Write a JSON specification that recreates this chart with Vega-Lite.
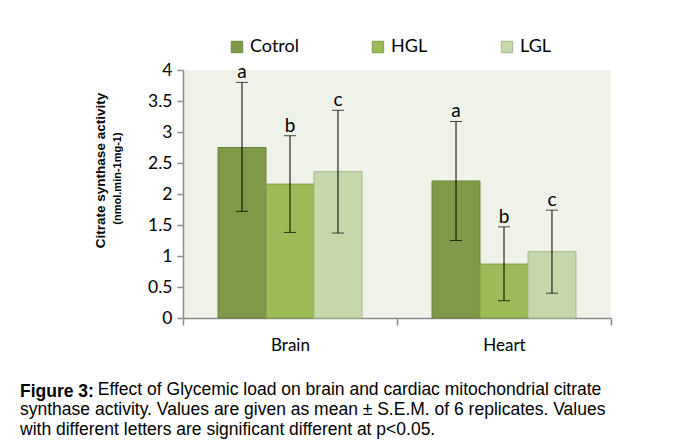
{
  "$schema": "https://vega.github.io/schema/vega-lite/v6.json",
  "width": 428,
  "height": 248,
  "autosize": {"type": "none"},
  "padding": {"left": 183, "top": 70, "right": 70, "bottom": 128},
  "background": "white",
  "config": {"view": {"fill": "#EFF2E8", "stroke": null}, "font": "Lato"},
  "title": {
    "text": "Figure 3:",
    "subtitle": [
      "\u200b\u00a0\u00a0\u00a0\u00a0\u00a0\u00a0\u00a0\u00a0\u00a0\u00a0\u00a0\u00a0\u00a0\u00a0\u00a0\u00a0Effect of Glycemic load on brain and cardiac mitochondrial citrate",
      "synthase activity. Values are given as mean ± S.E.M. of 6 replicates. Values",
      "with different letters are significant different at p<0.05."
    ],
    "orient": "bottom",
    "anchor": "start",
    "frame": "group",
    "dx": -163,
    "offset": 30,
    "font": "Liberation Sans",
    "fontSize": 17.5,
    "fontWeight": "bold",
    "color": "black",
    "lineHeight": 20,
    "subtitleFont": "Liberation Sans",
    "subtitleFontSize": 17.5,
    "subtitleFontWeight": "normal",
    "subtitleColor": "black",
    "subtitleLineHeight": 20,
    "subtitlePadding": -20
  },
  "data": {
    "values": [
      {"organ": "Brain", "group": "Cotrol", "mean": 2.75, "lo": 1.72, "hi": 3.8, "letter": "a"},
      {"organ": "Brain", "group": "HGL", "mean": 2.16, "lo": 1.38, "hi": 2.94, "letter": "b"},
      {"organ": "Brain", "group": "LGL", "mean": 2.36, "lo": 1.37, "hi": 3.35, "letter": "c"},
      {"organ": "Heart", "group": "Cotrol", "mean": 2.21, "lo": 1.25, "hi": 3.17, "letter": "a"},
      {"organ": "Heart", "group": "HGL", "mean": 0.87, "lo": 0.28, "hi": 1.47, "letter": "b"},
      {"organ": "Heart", "group": "LGL", "mean": 1.07, "lo": 0.4, "hi": 1.74, "letter": "c"}
    ]
  },
  "encoding": {
    "x": {
      "field": "organ",
      "type": "nominal",
      "sort": ["Brain", "Heart"],
      "scale": {"paddingInner": 0, "paddingOuter": 0},
      "axis": {
        "title": null,
        "labelAngle": 0,
        "labelFontSize": 17,
        "labelColor": "black",
        "labelPadding": 12,
        "tickBand": "extent",
        "tickSize": 7,
        "tickColor": "#8C8C8C",
        "domainColor": "#8C8C8C",
        "tickWidth": 1.5,
        "domainWidth": 1.5
      }
    },
    "xOffset": {
      "field": "group",
      "type": "nominal",
      "sort": ["Cotrol", "HGL", "LGL"],
      "scale": {"paddingInner": 0, "paddingOuter": 0.73}
    }
  },
  "layer": [
    {
      "mark": {"type": "bar", "strokeWidth": 1},
      "encoding": {
        "y": {
          "field": "mean",
          "type": "quantitative",
          "scale": {"domain": [0, 4]},
          "axis": {
            "orient": "left",
            "values": [0, 0.5, 1, 1.5, 2, 2.5, 3, 3.5, 4],
            "format": "~g",
            "grid": false,
            "labelFontSize": 17.5,
            "labelColor": "black",
            "labelPadding": 5,
            "tickSize": 6,
            "tickColor": "#8C8C8C",
            "domainColor": "#8C8C8C",
            "tickWidth": 1.5,
            "domainWidth": 1.5,
            "title": "(nmol.min-1mg-1)",
            "titleFont": "Liberation Sans",
            "titleFontSize": 11,
            "titleFontWeight": "bold",
            "titleColor": "black",
            "titleAngle": -90,
            "titleBaseline": "middle",
            "titleAlign": "center",
            "titleX": -66,
            "titleY": 108
          }
        },
        "color": {
          "field": "group",
          "type": "nominal",
          "sort": ["Cotrol", "HGL", "LGL"],
          "scale": {"range": ["#7E9A48", "#9BBB59", "#C6D7AC"]},
          "legend": {
            "title": null,
            "orient": "none",
            "direction": "horizontal",
            "legendX": 45,
            "legendY": -32,
            "symbolType": "square",
            "symbolSize": 130,
            "symbolStrokeWidth": 1,
            "labelFontSize": 18,
            "labelColor": "black",
            "labelOffset": 4,
            "columnPadding": 70,
            "encode": {
              "symbols": {
                "update": {"stroke": {"scale": "stroke", "field": "value"}}
              }
            }
          }
        },
        "stroke": {
          "field": "group",
          "type": "nominal",
          "sort": ["Cotrol", "HGL", "LGL"],
          "scale": {"range": ["#6A8439", "#7E9C45", "#A3B88A"]},
          "legend": null
        }
      }
    },
    {
      "mark": {"type": "rule", "color": "black", "strokeWidth": 1},
      "encoding": {
        "y": {
          "field": "lo",
          "type": "quantitative",
          "axis": {
            "orient": "left",
            "labels": false,
            "ticks": false,
            "domain": false,
            "grid": false,
            "title": "Citrate synthase activity",
            "titleFont": "Liberation Sans",
            "titleFontSize": 13.5,
            "titleFontWeight": "bold",
            "titleColor": "black",
            "titleAngle": -90,
            "titleBaseline": "middle",
            "titleAlign": "center",
            "titleX": -83,
            "titleY": 100
          }
        },
        "y2": {"field": "hi"}
      }
    },
    {
      "mark": {"type": "tick", "color": "black", "thickness": 1, "size": 12},
      "encoding": {"y": {"field": "hi", "type": "quantitative", "axis": null}}
    },
    {
      "mark": {"type": "tick", "color": "black", "thickness": 1, "size": 12},
      "encoding": {"y": {"field": "lo", "type": "quantitative", "axis": null}}
    },
    {
      "mark": {"type": "text", "baseline": "alphabetic", "dy": -4, "fontSize": 19, "color": "black"},
      "encoding": {
        "y": {"field": "hi", "type": "quantitative", "axis": null},
        "text": {"field": "letter"}
      }
    }
  ],
  "resolve": {"axis": {"y": "independent"}}
}
